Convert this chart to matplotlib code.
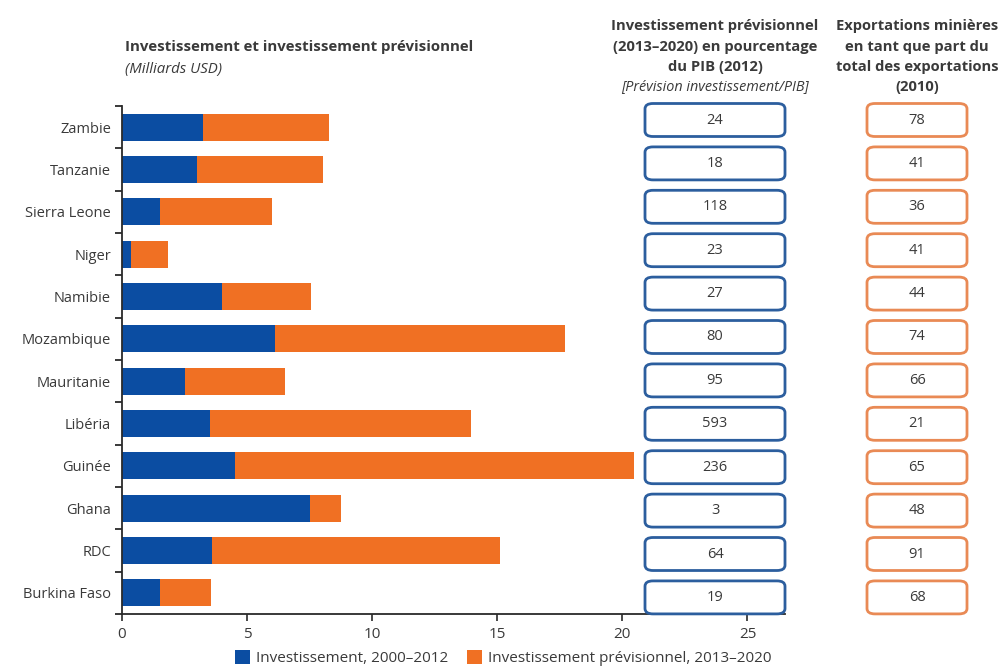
import matplotlib.pyplot as plt
from matplotlib.patches import FancyBboxPatch
import numpy as np

plt.rcParams['font.family'] = ['Open Sans', 'DejaVu Sans']

countries = ['Zambie', 'Tanzanie', 'Sierra Leone', 'Niger', 'Namibie', 'Mozambique',
             'Mauritanie', 'Libéria', 'Guinée', 'Ghana', 'RDC', 'Burkina Faso']
invest_2000_2012 = [3.25, 3.0, 1.5, 0.35, 4.0, 6.1, 2.5, 3.5, 4.5, 7.5, 3.6, 1.5]
total_2000_2020 = [8.28, 8.04, 6.0, 1.85, 7.55, 17.7, 6.53, 13.95, 20.45, 8.75, 15.1, 3.55]
forecast_pct_gdp = [24, 18, 118, 23, 27, 80, 95, 593, 236, 3, 64, 19]
mining_export_share = [78, 41, 36, 41, 44, 74, 66, 21, 65, 48, 91, 68]

blue = '#0b4da2'
orange = '#f07023'
txt = '#3a3a3a'

invest_2013_2020 = np.array(total_2000_2020) - np.array(invest_2000_2012)
ypos = np.arange(len(countries))

fig = plt.figure(figsize=(10, 6.7), dpi=100)
W, H = 1000, 670
ax = fig.add_axes([122 / W, 1 - 614 / H, (785 - 122) / W, (614 - 106) / H])

ax.barh(ypos, invest_2000_2012, height=0.64, color=blue, label='Investissement, 2000–2012')
ax.barh(ypos, invest_2013_2020, left=invest_2000_2012, height=0.64, color=orange,
        label='Investissement prévisionnel, 2013–2020')

ax.set_xlim(0, 26.5)
ax.set_ylim(len(countries) - 0.5, -0.5)
ax.set_xticks([0, 5, 10, 15, 20, 25])
ax.tick_params(axis='x', colors=txt, labelsize=11, length=5, width=1.2, pad=4)
ax.set_yticks(ypos)
ax.set_yticklabels(countries, fontsize=10.5, color=txt)
ax.tick_params(axis='y', length=0, pad=8)
ax.set_yticks(np.arange(-0.5, len(countries), 1), minor=True)
ax.tick_params(axis='y', which='minor', length=5, width=1.3, color='#2a2a2a')
for s in ['top', 'right']:
    ax.spines[s].set_visible(False)
for s in ['left', 'bottom']:
    ax.spines[s].set_color('#2a2a2a')
    ax.spines[s].set_linewidth(1.3)
ax.tick_params(axis='x', color='#2a2a2a')

# value boxes (figure pixel layout)
def box(xc, yc, w, h, val, ec):
    p = FancyBboxPatch(((xc - w / 2) / W, 1 - (yc + h / 2) / H), w / W, h / H,
                       boxstyle='round,pad=0,rounding_size=0.008',
                       transform=fig.transFigure, facecolor='white',
                       edgecolor=ec, linewidth=2.0, zorder=5)
    fig.add_artist(p)
    fig.text(xc / W, 1 - yc / H, str(val), ha='center', va='center',
             fontsize=10.5, color=txt, zorder=6)

for i, (a, b) in enumerate(zip(forecast_pct_gdp, mining_export_share)):
    yc = 120 + i * 43.4
    box(715, yc, 140, 33, a, '#2c5e9e')
    box(917, yc, 100, 33, b, '#e98a55')

# headers
fig.text(125 / W, 1 - 47 / H, 'Investissement et investissement prévisionnel',
         fontsize=10.8, fontweight='bold', color=txt, va='center')
fig.text(125 / W, 1 - 70 / H, '(Milliards USD)', fontsize=10.8, style='italic',
         color=txt, va='center')

mid = ['Investissement prévisionnel', '(2013–2020) en pourcentage', 'du PIB (2012)']
for k, s in enumerate(mid):
    fig.text(715 / W, 1 - (26 + 20.5 * k) / H, s, fontsize=10.6, fontweight='bold',
             color=txt, ha='center', va='center')
fig.text(715 / W, 1 - 87 / H, '[Prévision investissement/PIB]', fontsize=10.4,
         style='italic', color=txt, ha='center', va='center')

right = ['Exportations minières', 'en tant que part du', 'total des exportations', '(2010)']
for k, s in enumerate(right):
    fig.text(917 / W, 1 - (26 + 20.5 * k) / H, s, fontsize=10.6, fontweight='bold',
             color=txt, ha='center', va='center')

fig.legend(loc='center', bbox_to_anchor=(503 / W, 1 - 658 / H), ncol=2, frameon=False,
           fontsize=11, handlelength=1.0, handleheight=1.0, handletextpad=0.4,
           columnspacing=1.2, labelcolor=txt)

fig.savefig('out.png', dpi=100, facecolor='white')
